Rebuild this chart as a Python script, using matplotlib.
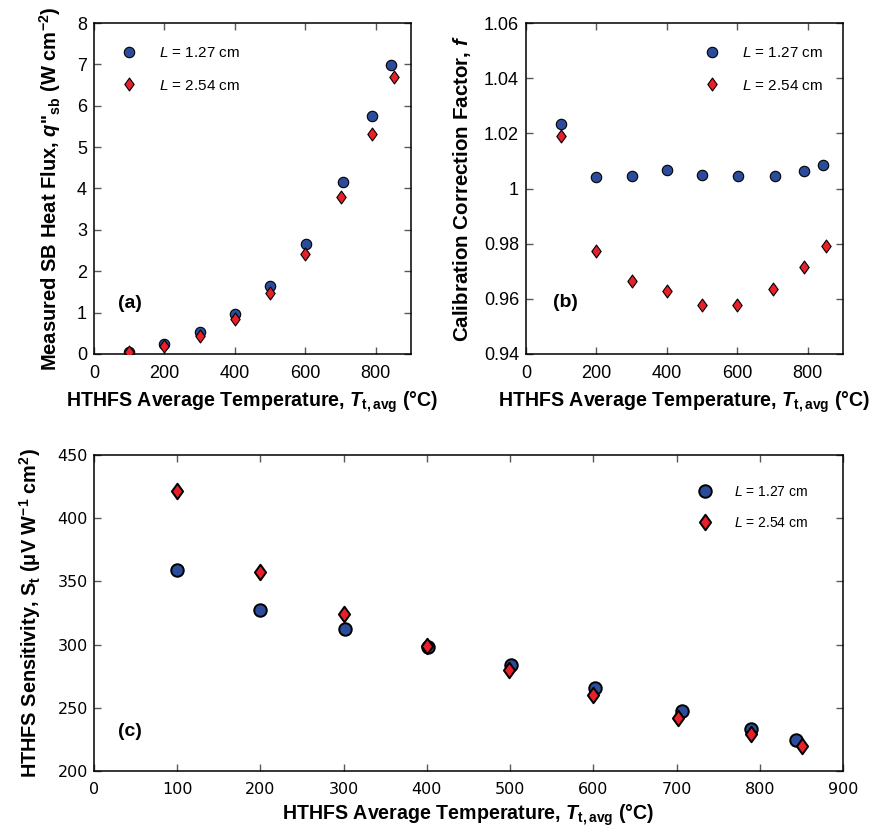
import matplotlib
matplotlib.use("Agg")
import matplotlib.pyplot as plt
from matplotlib.path import Path
from matplotlib.ticker import FuncFormatter, MultipleLocator

plt.rcParams['font.family'] = ['Liberation Sans', 'DejaVu Sans']
plt.rcParams['mathtext.fontset'] = 'custom'
plt.rcParams['mathtext.rm'] = 'Liberation Sans'
plt.rcParams['mathtext.it'] = 'Liberation Sans:italic'
plt.rcParams['mathtext.bf'] = 'Liberation Sans:bold'
try:
    plt.rcParams['mathtext.bfit'] = 'Liberation Sans:bold:italic'
except KeyError:
    pass

# ---------------- data ----------------
labels = [r"$L$ = 1.27 cm", r"$L$ = 2.54 cm"]

# temperatures (deg C)
T_127 = [100, 200, 302, 401, 501, 602, 706, 790, 843]
T_254 = [100, 199, 300, 400, 499, 599, 702, 789, 851]

# (a) measured SB heat flux (W/cm^2)
q_127 = [0.06, 0.23, 0.52, 0.97, 1.64, 2.66, 4.16, 5.75, 6.99]
q_254 = [0.06, 0.19, 0.44, 0.85, 1.47, 2.41, 3.79, 5.32, 6.70]

# (b) calibration correction factor
f_127 = [1.0233, 1.0040, 1.0044, 1.0066, 1.0049, 1.0047, 1.0044, 1.0063, 1.0086]
f_254 = [1.0190, 0.9775, 0.9666, 0.9630, 0.9579, 0.9579, 0.9636, 0.9714, 0.9793]

# (c) sensitivity (uV W^-1 cm^2)
S_127 = [359.2, 327.4, 312.6, 298.0, 284.2, 265.5, 247.1, 233.4, 224.5]
S_254 = [421.6, 357.4, 324.5, 299.0, 279.7, 260.3, 242.1, 229.0, 220.0]

BLUE = '#2B4C9B'
RED = '#E8202A'

diamond = Path([(0, 1), (0.72, 0), (0, -1), (-0.72, 0), (0, 1)],
               [Path.MOVETO, Path.LINETO, Path.LINETO, Path.LINETO, Path.CLOSEPOLY])

W, H = 872, 833
fig = plt.figure(figsize=(W / 100, H / 100), dpi=100)


def box(l, t, r, b):
    return [l / W, 1 - b / H, (r - l) / W, (b - t) / H]


ax_a = fig.add_axes(box(94, 23, 411, 354))
ax_b = fig.add_axes(box(526, 23, 843, 354))
ax_c = fig.add_axes(box(94, 455, 843, 771))

xlab = r"HTHFS Average Temperature, $\mathbfit{T}_{\mathbf{t,avg}}$ (°C)"
LBL = 14.1


def style(ax, tsize, pad_x, pad_y, family=None):
    ax.tick_params(direction='in', top=True, right=True, length=5, width=1,
                   color='0.35', labelsize=tsize)
    ax.tick_params(axis='x', pad=pad_x)
    ax.tick_params(axis='y', pad=pad_y)
    if family:
        for t in ax.get_xticklabels() + ax.get_yticklabels():
            t.set_fontfamily(family)
    for s in ax.spines.values():
        s.set_linewidth(1.1)


def plot_pair(ax, y1, y2, ms_c, ms_d, mew):
    ax.plot(T_127, y1, linestyle='none', marker='o', ms=ms_c, mfc=BLUE,
            mec='black', mew=mew, label=labels[0], zorder=3)
    ax.plot(T_254, y2, linestyle='none', marker=diamond, ms=ms_d, mfc=RED,
            mec='black', mew=mew, label=labels[1], zorder=4)


# ---- (a) ----
plot_pair(ax_a, q_127, q_254, 7.5, 9.3, 0.8)
ax_a.set_xlim(0, 900)
ax_a.set_ylim(0, 8)
ax_a.set_xticks([0, 200, 400, 600, 800])
ax_a.set_yticks(range(0, 9))
style(ax_a, 13, 8.0, 5)
ax_a.set_xlabel(xlab, fontsize=LBL, fontweight='bold', labelpad=5)
ax_a.set_ylabel(r"Measured SB Heat Flux, $\mathbfit{q}$''$_{\mathbf{sb}}$ (W cm$^{\mathbf{-2}}$)",
                fontsize=14.5, fontweight='bold', labelpad=10)
ax_a.text(102, 1.23, "(a)", fontsize=14, fontweight='bold', ha='center', va='center')
ax_a.legend(loc='upper left', bbox_to_anchor=(0.085, 0.93), frameon=False,
            fontsize=11, handlelength=1.0, handletextpad=1.5, labelspacing=1.2,
            borderpad=0, borderaxespad=0, numpoints=1)

# ---- (b) ----
plot_pair(ax_b, f_127, f_254, 7.5, 9.3, 0.8)
ax_b.set_xlim(0, 900)
ax_b.set_ylim(0.94, 1.06)
ax_b.set_xticks([0, 200, 400, 600, 800])
ax_b.yaxis.set_major_locator(MultipleLocator(0.02))
ax_b.yaxis.set_major_formatter(FuncFormatter(lambda v, p: f"{v:.2f}".rstrip('0').rstrip('.')))
style(ax_b, 13, 8.0, 5)
ax_b.set_xlabel(xlab, fontsize=LBL, fontweight='bold', labelpad=5)
ax_b.set_ylabel(r"Calibration Correction Factor, $\mathbfit{f}$",
                fontsize=14.8, fontweight='bold', labelpad=8)
ax_b.text(111, 0.9585, "(b)", fontsize=14, fontweight='bold', ha='center', va='center')
ax_b.legend(loc='upper left', bbox_to_anchor=(0.562, 0.93), frameon=False,
            fontsize=11, handlelength=1.0, handletextpad=1.5, labelspacing=1.2,
            borderpad=0, borderaxespad=0, numpoints=1)

# ---- (c) ----
plot_pair(ax_c, S_127, S_254, 9.0, 11.2, 1.4)
ax_c.set_xlim(0, 900)
ax_c.set_ylim(200, 450)
ax_c.set_xticks(range(0, 1000, 100))
ax_c.set_yticks(range(200, 500, 50))
style(ax_c, 11.5, 8.0, 4.5, family='DejaVu Sans')
ax_c.set_xlabel(xlab, fontsize=LBL, fontweight='bold', labelpad=4)
ax_c.set_ylabel(r"HTHFS Sensitivity, S$_{\mathbf{t}}$ (μV W$^{\mathbf{-1}}$ cm$^{\mathbf{2}}$)",
                fontsize=14.3, fontweight='bold', labelpad=10.5)
ax_c.text(43, 231, "(c)", fontsize=14, fontweight='bold', ha='center', va='center')
ax_c.legend(loc='upper left', bbox_to_anchor=(0.806, 0.905), frameon=False,
            fontsize=10, handlelength=1.0, handletextpad=1.65, labelspacing=1.2,
            borderpad=0, borderaxespad=0, numpoints=1)

fig.savefig("out.png", dpi=100)
